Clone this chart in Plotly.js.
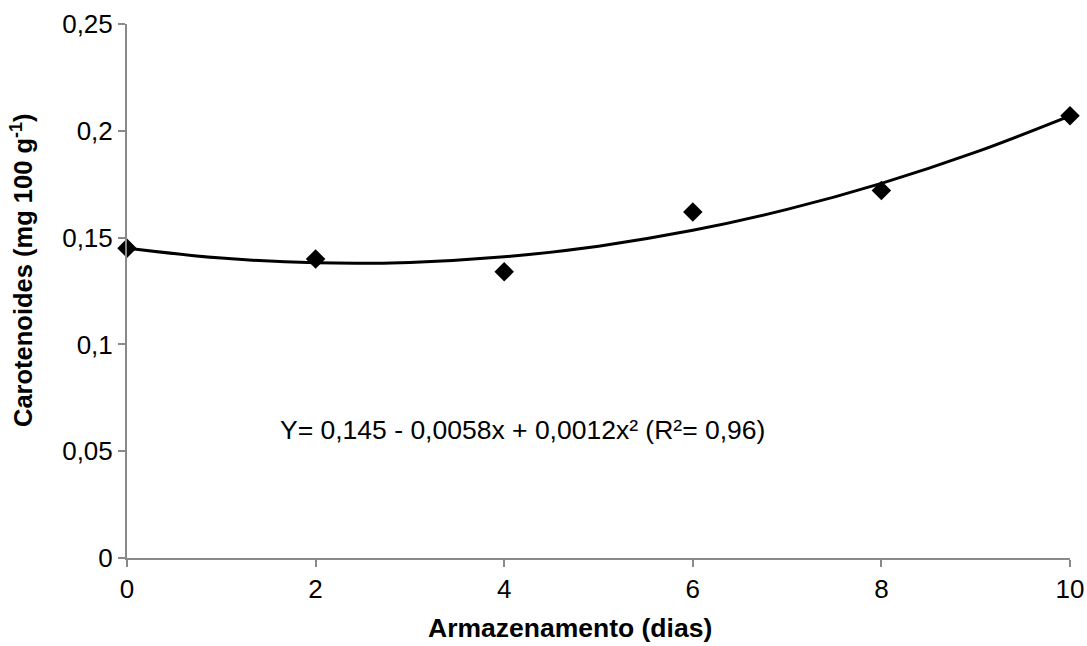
<!DOCTYPE html>
<html><head><meta charset="utf-8">
<script src="https://cdn.plot.ly/plotly-3.0.1.min.js"></script>
<style>html,body{margin:0;padding:0;background:#fff}#chart{width:1087px;height:646px}</style>
</head><body><div id="chart"></div>
<script>
const days = [0, 2, 4, 6, 8, 10];
const carotenoids = [0.145, 0.140, 0.134, 0.162, 0.172, 0.207];
// trend line
const trendX = [0, 1, 2, 3, 4, 5, 6, 7, 8, 9, 10];
const trendY = [0.145, 0.1404, 0.1382, 0.1384, 0.1410, 0.1460, 0.1534, 0.1632, 0.1754, 0.1900, 0.2070];
const xTicks = [0, 2, 4, 6, 8, 10];
const yTicks = [0, 0.05, 0.1, 0.15, 0.2, 0.25];
const yTickText = ['0', '0,05', '0,1', '0,15', '0,2', '0,25'];
const equation = 'Y= 0,145 - 0,0058x + 0,0012x² (R²= 0,96)';
const xTitle = '<b>Armazenamento (dias)</b>';
const yTitle = '<b>Carotenoides (mg 100 g<sup>-1</sup>)</b>';

const font = 'Liberation Sans, Arial, sans-serif';
const data = [
  {x: trendX, y: trendY, mode: 'lines', line: {color: '#000', width: 3, shape: 'spline'}, hoverinfo: 'skip'},
  {x: days, y: carotenoids, mode: 'markers', marker: {symbol: 'diamond', size: 15, color: '#000'}, cliponaxis: false}
];
const layout = {
  width: 1087, height: 646,
  margin: {l: 127, r: 17, t: 24, b: 88},
  showlegend: false,
  paper_bgcolor: '#fff', plot_bgcolor: '#fff',
  font: {family: font, size: 26, color: '#000'},
  xaxis: {
    range: [0, 10], tickvals: xTicks, ticktext: xTicks.map(String),
    showgrid: false, zeroline: false, showline: true, linecolor: '#898989', linewidth: 2,
    ticks: 'outside', ticklen: 7, tickwidth: 2, tickcolor: '#898989',
    tickfont: {size: 26, family: font, color: '#000'}
  },
  yaxis: {
    range: [0, 0.25], tickvals: yTicks, ticktext: yTickText,
    showgrid: false, zeroline: false, showline: true, linecolor: '#898989', linewidth: 2,
    ticks: 'outside', ticklen: 7, tickwidth: 2, tickcolor: '#898989',
    tickfont: {size: 26, family: font, color: '#000'}
  },
  annotations: [
    {text: equation, x: 4.19, y: 0.060, xref: 'x', yref: 'y', showarrow: false,
     font: {size: 26.5, family: font, color: '#000'}, xanchor: 'center', yanchor: 'middle'},
    {text: xTitle, x: 0.4698, y: -0.162, xref: 'paper', yref: 'paper', showarrow: false,
     font: {size: 26.5, family: font, color: '#000'}, xanchor: 'center', yanchor: 'bottom'},
    {text: yTitle, x: -0.1115, y: 0.539, xref: 'paper', yref: 'paper', showarrow: false, textangle: -90,
     font: {size: 25.5, family: font, color: '#000'}, xanchor: 'center', yanchor: 'middle'}
  ]
};
Plotly.newPlot('chart', data, layout, {displayModeBar: false, staticPlot: true});
</script></body></html>
